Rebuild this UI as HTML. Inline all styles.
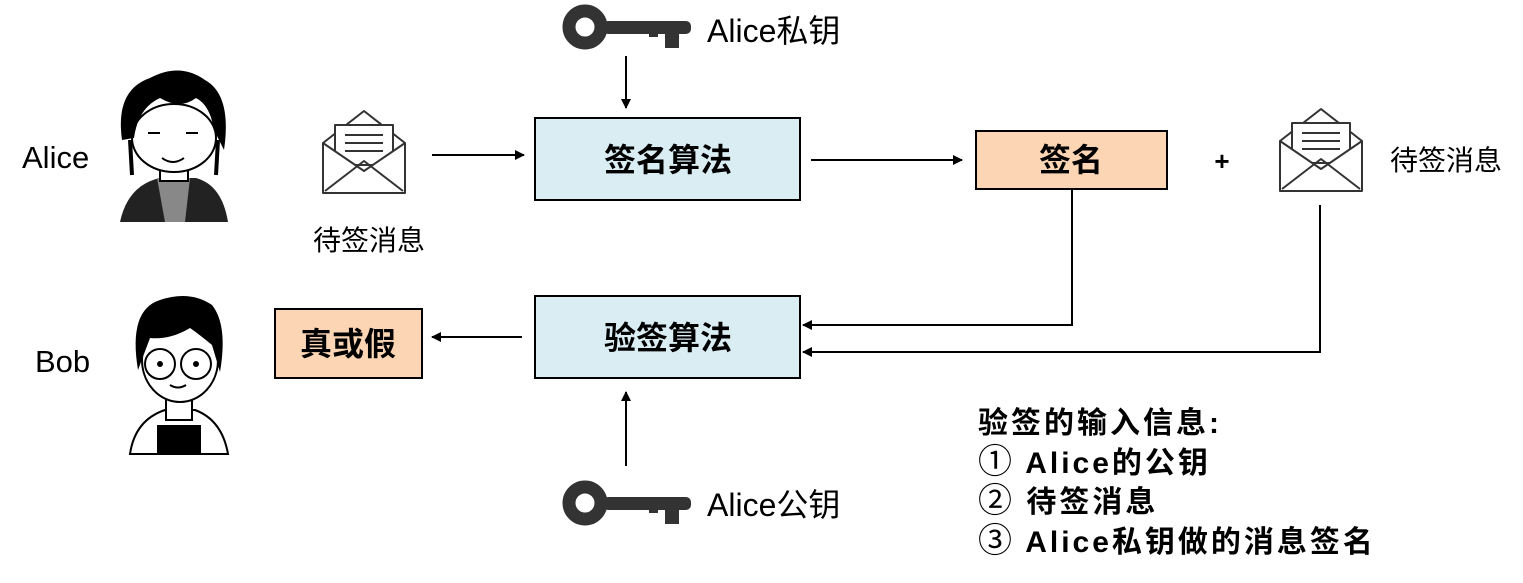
<!DOCTYPE html>
<html><head><meta charset="utf-8"><style>
html,body{margin:0;padding:0;background:#fff;}
svg{display:block;}
text{font-family:"Liberation Sans","Noto Sans CJK SC",sans-serif;fill:#000;}
</style></head><body>
<svg width="1523" height="583" viewBox="0 0 1523 583" xmlns="http://www.w3.org/2000/svg">
<defs>
<marker id="ah" markerWidth="10" markerHeight="10" refX="9" refY="5" orient="auto" markerUnits="userSpaceOnUse">
<path d="M0,0 L10,5 L0,10 z" fill="#000"/>
</marker>
<g id="key">
<circle cx="0" cy="0" r="16" fill="none" stroke="#333" stroke-width="13"/>
<rect x="18" y="-6" width="88" height="13" rx="5" fill="#333"/>
<rect x="64" y="0" width="9" height="10" fill="#333"/>
<rect x="80" y="0" width="14" height="21" fill="#333"/>
</g>
<g id="env" fill="none" stroke="#333" stroke-width="2" stroke-linejoin="round">
<path d="M2,28 L43,-4 L84,28"/>
<rect x="14" y="10" width="58" height="40" fill="#fff"/>
<path d="M24,20 H62 M24,28 H62 M24,36 H62" />
<path d="M2,28 L2,78 L84,78 L84,28 L43,56 Z" fill="#fff"/>
<path d="M4,76 L43,46 L82,76"/>
</g>
</defs>

<text x="22" y="168" font-size="31">Alice</text>
<text x="35" y="372" font-size="31">Bob</text>

<g>
<path d="M120,222 Q128,185 160,178 L196,178 Q222,185 228,222 Z" fill="#222"/>
<path d="M157,178 L190,178 L185,222 L165,222 Z" fill="#888"/>
<rect x="160" y="165" width="28" height="16" fill="#fff" stroke="#000" stroke-width="2"/>
<ellipse cx="174" cy="138" rx="42" ry="34" fill="#fff" stroke="#000" stroke-width="2"/>
<path d="M122,140 Q115,90 150,78 Q180,62 205,80 Q232,95 224,150 L214,130 Q210,105 196,98 Q180,110 160,98 Q138,108 134,138 Z" fill="#000"/>
<path d="M130,140 L132,175 M218,140 L216,175" stroke="#000" stroke-width="4"/>
<path d="M148,133 H160 M186,133 H198" stroke="#000" stroke-width="2"/>
<path d="M162,158 Q173,166 184,158" stroke="#000" stroke-width="2" fill="none"/>
</g>

<g>
<path d="M130,454 Q135,420 165,410 L195,410 Q222,420 228,454 Z" fill="#fff" stroke="#000" stroke-width="2"/>
<rect x="157" y="425" width="44" height="29" fill="#000"/>
<rect x="166" y="395" width="26" height="25" fill="#fff" stroke="#000" stroke-width="2"/>
<ellipse cx="180" cy="360" rx="38" ry="42" fill="#fff" stroke="#000" stroke-width="2"/>
<path d="M138,370 Q128,310 160,300 Q190,290 212,305 Q228,325 220,372 L212,345 Q200,335 190,328 Q170,340 150,338 Z" fill="#000"/>
<circle cx="160" cy="364" r="15" fill="none" stroke="#000" stroke-width="2"/>
<circle cx="196" cy="364" r="15" fill="none" stroke="#000" stroke-width="2"/>
<circle cx="160" cy="364" r="3" fill="#000"/><circle cx="196" cy="364" r="3" fill="#000"/>
<path d="M170,385 Q178,390 186,385" stroke="#000" stroke-width="2" fill="none"/>
</g>

<use href="#key" x="585" y="27"/>
<text x="707" y="42" font-size="32">Alice私钥</text>
<use href="#key" x="585" y="503"/>
<text x="707" y="516" font-size="32">Alice公钥</text>

<use href="#env" x="321" y="115"/>
<text x="313" y="250" font-size="28">待签消息</text>
<use href="#env" x="1278" y="113"/>
<text x="1390" y="170" font-size="28">待签消息</text>

<rect x="535" y="118" width="265" height="82" fill="#daedf3" stroke="#000" stroke-width="2"/>
<text x="668" y="171" font-size="32" font-weight="bold" text-anchor="middle">签名算法</text>
<rect x="976" y="131" width="191" height="58" fill="#fcd5b4" stroke="#000" stroke-width="2"/>
<text x="1071" y="171" font-size="32" font-weight="bold" text-anchor="middle">签名</text>
<text x="1222" y="170" font-size="26" font-weight="bold" text-anchor="middle">+</text>
<rect x="535" y="296" width="265" height="82" fill="#daedf3" stroke="#000" stroke-width="2"/>
<text x="668" y="349" font-size="32" font-weight="bold" text-anchor="middle">验签算法</text>
<rect x="275" y="309" width="147" height="69" fill="#fcd5b4" stroke="#000" stroke-width="2"/>
<text x="348" y="355" font-size="32" font-weight="bold" text-anchor="middle">真或假</text>

<g stroke="#000" stroke-width="2" fill="none">
<line x1="626" y1="56" x2="626" y2="108" marker-end="url(#ah)"/>
<line x1="432" y1="155" x2="524" y2="155" marker-end="url(#ah)"/>
<line x1="811" y1="160" x2="962" y2="160" marker-end="url(#ah)"/>
<polyline points="1072,190 1072,325 803,325" marker-end="url(#ah)"/>
<polyline points="1320,205 1320,352 803,352" marker-end="url(#ah)"/>
<line x1="522" y1="337" x2="432" y2="337" marker-end="url(#ah)"/>
<line x1="626" y1="466" x2="626" y2="392" marker-end="url(#ah)"/>
</g>

<g font-size="30" font-weight="bold" letter-spacing="3">
<text x="978" y="433">验签的输入信息:</text>
<text x="978" y="473"><tspan font-size="34" font-weight="normal">①</tspan> Alice的公钥</text>
<text x="978" y="512"><tspan font-size="34" font-weight="normal">②</tspan> 待签消息</text>
<text x="978" y="552"><tspan font-size="34" font-weight="normal">③</tspan> Alice私钥做的消息签名</text>
</g>
</svg>
</body></html>
